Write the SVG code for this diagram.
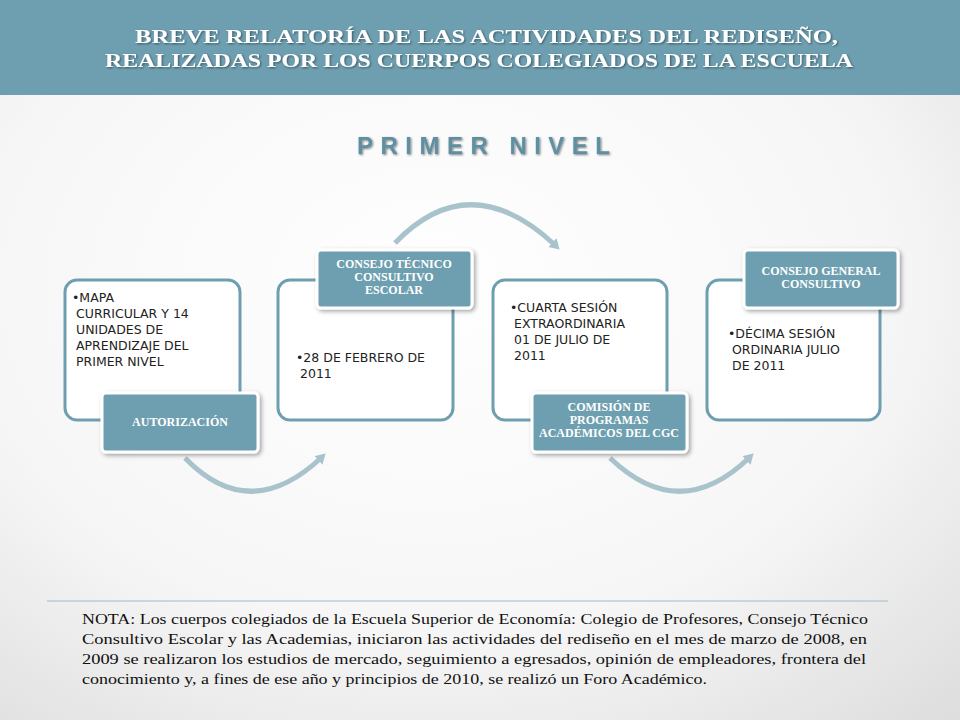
<svg xmlns="http://www.w3.org/2000/svg" width="960" height="720" viewBox="0 0 960 720">
<defs>
<radialGradient id="bg" cx="0.45" cy="0.4" r="0.8"><stop offset="0" stop-color="#ffffff"/><stop offset="0.6" stop-color="#f6f6f6"/><stop offset="1" stop-color="#dedede"/></radialGradient>
<filter id="sh" x="-10%" y="-10%" width="130%" height="140%"><feDropShadow dx="2" dy="2" stdDeviation="2" flood-color="#000" flood-opacity="0.35"/></filter>
<filter id="ts"><feDropShadow dx="1" dy="1" stdDeviation="0.8" flood-color="#000" flood-opacity="0.5"/></filter>
<marker id="ah" markerWidth="14" markerHeight="14" refX="5" refY="6" orient="auto" markerUnits="userSpaceOnUse"><path d="M0,0 L10,6 L0,12 z" fill="#a9c3cd"/></marker>
</defs>
<style>
.box{fill:#fff;stroke:#6e9fb0;stroke-width:3}
.lab{fill:#6e9fb0;stroke:#fff;stroke-width:3;filter:url(#sh)}
.lt{font-family:"Liberation Serif",serif;font-weight:bold;font-size:12px;fill:#fff;text-anchor:middle}
.bt{font-family:"DejaVu Sans","Liberation Sans",sans-serif;font-size:12.5px;fill:#222}
.arc{fill:none;stroke:#a9c3cd;stroke-width:5}
</style>
<rect width="960" height="720" fill="url(#bg)"/>
<rect width="960" height="95" fill="#6e9fb0"/>
<g font-family="Liberation Serif,serif" font-weight="bold" font-size="18" fill="#fff" filter="url(#ts)">
<text x="135" y="43" textLength="703" lengthAdjust="spacingAndGlyphs">BREVE RELATORÍA DE LAS ACTIVIDADES DEL REDISEÑO,</text>
<text x="105" y="67" textLength="748" lengthAdjust="spacingAndGlyphs">REALIZADAS POR LOS CUERPOS COLEGIADOS DE LA ESCUELA</text>
</g>
<text x="357" y="154" font-family="Liberation Sans,sans-serif" font-weight="bold" font-size="24" fill="#5f8fa0" textLength="253" filter="url(#ts)">PRIMER NIVEL</text>
<g id="connectors">
<path class="arc" d="M185,458 Q250,525 322,457" marker-end="url(#ah)"/>
<path class="arc" d="M395,243 Q470,165 556,246" marker-end="url(#ah)"/>
<path class="arc" d="M610,458 Q680,525 750,457" marker-end="url(#ah)"/>
</g>
<g id="n1"><rect class="box" x="65" y="280" width="175" height="140" rx="12"/>
<text class="bt" x="72" y="302">•MAPA</text><text class="bt" x="76" y="318">CURRICULAR Y 14</text><text class="bt" x="76" y="334">UNIDADES DE</text><text class="bt" x="76" y="350">APRENDIZAJE DEL</text><text class="bt" x="76" y="366">PRIMER NIVEL</text></g>
<g id="l1"><rect class="lab" x="102" y="393" width="156" height="59" rx="4"/><text class="lt" x="180" y="426">AUTORIZACIÓN</text></g>
<g id="n2"><rect class="box" x="278" y="280" width="175" height="140" rx="12"/>
<text class="bt" x="296" y="362">•28 DE FEBRERO DE</text><text class="bt" x="300" y="378">2011</text></g>
<g id="l2"><rect class="lab" x="317" y="250" width="155" height="58" rx="4"/><text class="lt" x="394" y="268">CONSEJO TÉCNICO</text><text class="lt" x="394" y="281">CONSULTIVO</text><text class="lt" x="394" y="294">ESCOLAR</text></g>
<g id="n3"><rect class="box" x="493" y="280" width="174" height="140" rx="12"/>
<text class="bt" x="510" y="312">•CUARTA SESIÓN</text><text class="bt" x="514" y="328">EXTRAORDINARIA</text><text class="bt" x="514" y="344">01 DE JULIO DE</text><text class="bt" x="514" y="360">2011</text></g>
<g id="l3"><rect class="lab" x="532" y="393" width="155" height="59" rx="4"/><text class="lt" x="609" y="411">COMISIÓN DE</text><text class="lt" x="609" y="424">PROGRAMAS</text><text class="lt" x="609" y="437">ACADÉMICOS DEL CGC</text></g>
<g id="n4"><rect class="box" x="707" y="280" width="173" height="140" rx="12"/>
<text class="bt" x="728" y="338">•DÉCIMA SESIÓN</text><text class="bt" x="732" y="354">ORDINARIA JULIO</text><text class="bt" x="732" y="370">DE 2011</text></g>
<g id="l4"><rect class="lab" x="744" y="250" width="154" height="58" rx="4"/><text class="lt" x="821" y="275">CONSEJO GENERAL</text><text class="lt" x="821" y="288">CONSULTIVO</text></g>
<line x1="47" y1="601" x2="888" y2="601" stroke="#9dbcc7" stroke-width="1"/>
<g font-family="Liberation Serif,serif" font-size="14" fill="#111">
<text x="82" y="624" textLength="786" lengthAdjust="spacingAndGlyphs">NOTA: Los cuerpos colegiados de la Escuela Superior de Economía: Colegio de Profesores, Consejo Técnico</text>
<text x="82" y="644" textLength="785" lengthAdjust="spacingAndGlyphs">Consultivo Escolar  y las Academias, iniciaron las actividades del rediseño en el mes de marzo de 2008, en</text>
<text x="82" y="664" textLength="784" lengthAdjust="spacingAndGlyphs">2009 se realizaron los estudios de mercado, seguimiento a egresados, opinión de empleadores, frontera del</text>
<text x="82" y="684" textLength="625" lengthAdjust="spacingAndGlyphs">conocimiento y, a fines de ese año y principios de 2010, se realizó un Foro Académico.</text>
</g>
</svg>
